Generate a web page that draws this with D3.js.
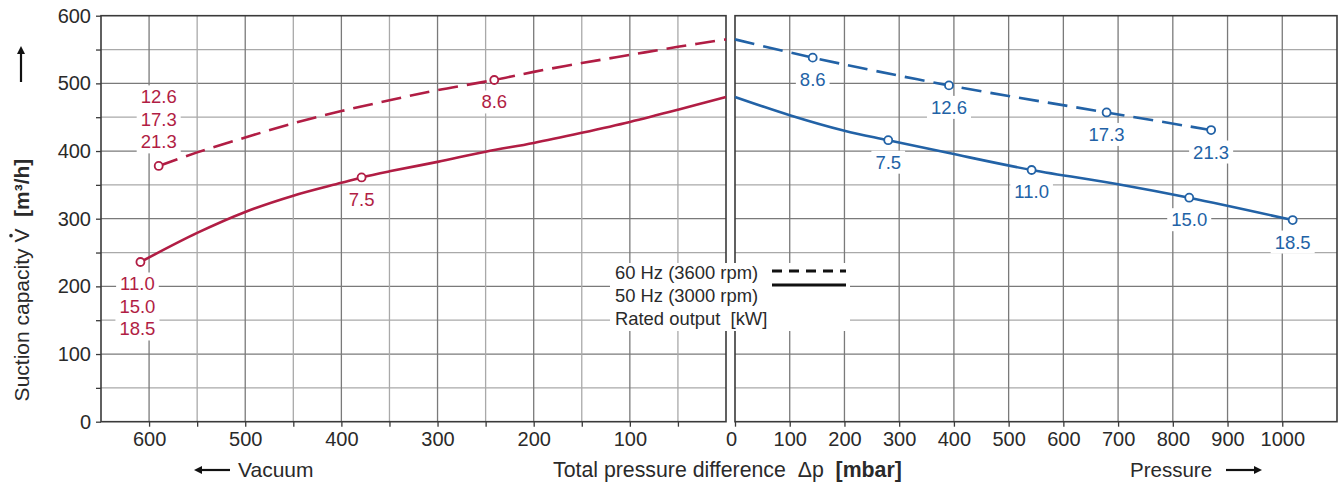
<!DOCTYPE html>
<html lang="en">
<head>
<meta charset="UTF-8">
<title>Suction capacity</title>
<style>
  body { margin: 0; padding: 0; background: #fff; }
  svg { font-family: "Liberation Sans", Arial, Helvetica, sans-serif; display: block; }
  svg text { white-space: pre; }
  .tick text { font-size: 20px; fill: #2a2a2a; }
</style>
</head>
<body>
<svg width="1343" height="483"></svg>
<script src="https://cdnjs.cloudflare.com/ajax/libs/d3/7.8.5/d3.min.js"></script>
<script>
// --- data ---
// vacuum side (mbar below atmosphere), 60 Hz dashed / 50 Hz solid
const vac60X = [590, 550, 500, 450, 400, 350, 300, 241, 200, 150, 100, 50, 0];
const vac60Y = [378, 398, 420, 441, 459, 475, 490, 505, 517, 530, 542, 554, 565];
const vac50X = [609, 550, 500, 450, 400, 379, 350, 300, 250, 200, 150, 100, 50, 0];
const vac50Y = [236, 279, 310, 334, 353, 361, 370, 384, 399, 412, 427, 443, 461, 480];
// pressure side
const pres60X = [0, 142, 391, 679, 870];
const pres60Y = [565, 538, 497, 457, 431];
const pres50X = [0, 100, 200, 280, 391, 542, 700, 830, 1019];
const pres50Y = [480, 453, 430, 416, 397, 372, 351, 331, 298];

// rated output markers
const vacMarkX = [590, 241, 609, 379];
const vacMarkY = [378, 505, 236, 361];
const vacMarkLabel = [["12.6", "17.3", "21.3"], ["8.6"], ["11.0", "15.0", "18.5"], ["7.5"]];
const vacMarkPos = ["above", "below", "below", "below"];
const presMarkX = [142, 391, 679, 870, 280, 542, 830, 1019];
const presMarkY = [538, 497, 457, 431, 416, 372, 331, 298];
const presMarkLabel = ["8.6", "12.6", "17.3", "21.3", "7.5", "11.0", "15.0", "18.5"];

const yTicks = [0, 100, 200, 300, 400, 500, 600];
const vacTicks = [600, 500, 400, 300, 200, 100];
const presTicks = [0, 100, 200, 300, 400, 500, 600, 700, 800, 900, 1000];
const legendLabels = ["60 Hz (3600 rpm)", "50 Hz (3000 rpm)", "Rated output  [kW]"];

const RED = "#b11d44", BLUE = "#2262a6", INK = "#2a2a2a";

const svg = d3.select("svg");

const y = d3.scaleLinear().domain([0, 600]).range([421.7, 15.7]);
const xL = d3.scaleLinear().domain([650, 0]).range([101, 726]);
const xR = d3.scaleLinear().domain([0, 1100]).range([735, 1337]);

// grid
function grid(x, vLines) {
  const g = svg.append("g");
  d3.range(50, 600, 50).forEach(v => {
    g.append("line")
      .attr("x1", x.range()[0]).attr("x2", x.range()[1])
      .attr("y1", y(v)).attr("y2", y(v))
      .attr("stroke", v % 100 === 0 ? "#7a7a7a" : "#a9a9a9")
      .attr("stroke-width", 1.3);
  });
  vLines.forEach(v => {
    g.append("line")
      .attr("x1", x(v)).attr("x2", x(v))
      .attr("y1", y(0)).attr("y2", y(600))
      .attr("stroke", v % 100 === 0 ? "#7a7a7a" : "#a9a9a9")
      .attr("stroke-width", 1.3);
  });
}
grid(xL, d3.range(50, 650, 50));
grid(xR, d3.range(100, 1100, 100));

// frames
[xL, xR].forEach(x => {
  svg.append("rect")
    .attr("x", x.range()[0]).attr("y", y(600))
    .attr("width", x.range()[1] - x.range()[0])
    .attr("height", y(0) - y(600))
    .attr("fill", "none").attr("stroke", "#3a3a3a").attr("stroke-width", 1.6);
});

// axes
function styleAxis(g) {
  g.select(".domain").remove();
  g.selectAll(".tick line").attr("stroke", "#3a3a3a").attr("stroke-width", 1.3);
}
svg.append("g").attr("transform", `translate(101,0)`)
  .call(d3.axisLeft(y).tickValues(yTicks).tickSize(5).tickPadding(5))
  .call(styleAxis);
svg.append("g").attr("transform", `translate(101,0)`)
  .call(d3.axisLeft(y).tickValues(d3.range(50, 600, 100)).tickSize(5).tickFormat(""))
  .call(styleAxis);
svg.append("g").attr("transform", `translate(0,${y(0)})`)
  .call(d3.axisBottom(xL).tickValues(vacTicks).tickSize(5).tickPadding(5).tickFormat(d3.format("d")))
  .call(styleAxis);
svg.append("g").attr("transform", `translate(0,${y(0)})`)
  .call(d3.axisBottom(xL).tickValues(d3.range(50, 650, 100)).tickSize(5).tickFormat(""))
  .call(styleAxis);
const presAxis = svg.append("g").attr("transform", `translate(0,${y(0)})`)
  .call(d3.axisBottom(xR).tickValues(presTicks).tickSize(5).tickPadding(5).tickFormat(d3.format("d")))
  .call(styleAxis);
presAxis.selectAll(".tick").filter(d => d === 0).select("text").attr("dx", -4);

// legend (white box hides the grid)
const lg = svg.append("g");
lg.append("rect").attr("x", 610).attr("y", 263).attr("width", 240).attr("height", 68).attr("fill", "#fff");
legendLabels.forEach((t, i) => {
  lg.append("text").attr("x", 615).attr("y", 279 + i * 23)
    .attr("font-size", 18.4).attr("fill", INK).text(t);
});
lg.append("line").attr("x1", 772).attr("x2", 846).attr("y1", 271).attr("y2", 271)
  .attr("stroke", "#111").attr("stroke-width", 3).attr("stroke-dasharray", "10,7");
lg.append("line").attr("x1", 772).attr("x2", 846).attr("y1", 285).attr("y2", 285)
  .attr("stroke", "#111").attr("stroke-width", 3);

// curves
function curve(x, xs, ys, color, dashed) {
  const pts = xs.map((v, i) => [x(v), y(ys[i])]).sort((a, b) => a[0] - b[0]);
  svg.append("path")
    .attr("d", d3.line().curve(d3.curveCatmullRom.alpha(0.5))(pts))
    .attr("fill", "none").attr("stroke", color).attr("stroke-width", 2.6)
    .attr("stroke-dasharray", dashed ? "20,9" : null);
}
curve(xL, vac60X, vac60Y, RED, true);
curve(xL, vac50X, vac50Y, RED, false);
curve(xR, pres60X, pres60Y, BLUE, true);
curve(xR, pres50X, pres50Y, BLUE, false);

// markers and labels
const labelLayer = svg.append("g");
const dots = svg.append("g");
function marker(cx, cy, lines, pos, color, dx) {
  const lh = 22.5;
  lines.forEach((t, i) => {
    const ty = pos === "above" ? cy - 24 - (lines.length - 1 - i) * lh : cy + 22 + i * lh;
    const txt = labelLayer.append("text")
      .attr("x", cx + dx).attr("y", ty).attr("dy", "0.35em")
      .attr("text-anchor", "middle").attr("font-size", 18.5)
      .attr("fill", color).text(t);
    const b = txt.node().getBBox();
    labelLayer.insert("rect", "text")
      .attr("x", b.x - 4).attr("y", b.y - 1)
      .attr("width", b.width + 8).attr("height", b.height + 2)
      .attr("fill", "#fff");
  });
  dots.append("circle").attr("cx", cx).attr("cy", cy).attr("r", 4)
    .attr("fill", "#fff").attr("stroke", color).attr("stroke-width", 1.8);
}
vacMarkX.forEach((v, i) => {
  const dx = vacMarkLabel[i].length > 1 && vacMarkPos[i] === "below" ? -3 : 0;
  marker(xL(v), y(vacMarkY[i]), vacMarkLabel[i], vacMarkPos[i], RED, dx);
});
presMarkX.forEach((v, i) => marker(xR(v), y(presMarkY[i]), [presMarkLabel[i]], "below", BLUE, 0));

// axis titles
const ytg = svg.append("g").attr("transform", "translate(29,280) rotate(-90)");
const yt = ytg.append("text")
  .attr("text-anchor", "middle").attr("font-size", 21).attr("fill", INK);
yt.append("tspan").text("Suction capacity V  ");
yt.append("tspan").attr("font-weight", "bold").text("[m³/h]");
// dot over the V (flow rate symbol)
const vIdx = "Suction capacity ".length;
const ext = yt.node().getExtentOfChar(vIdx);
ytg.append("circle")
  .attr("cx", ext.x + ext.width / 2).attr("cy", ext.y + 1)
  .attr("r", 1.8).attr("fill", INK);

const xt = svg.append("text").attr("x", 553).attr("y", 477)
  .attr("font-size", 21.3).attr("fill", INK);
xt.append("tspan").text("Total pressure difference  \u0394p  ");
xt.append("tspan").attr("font-weight", "bold").text("[mbar]");

svg.append("text").attr("x", 238).attr("y", 477).attr("font-size", 21).attr("fill", INK).text("Vacuum");
svg.append("text").attr("x", 1130).attr("y", 477).attr("font-size", 20.5).attr("fill", INK).text("Pressure");

// arrows
function arrow(x1, y1, x2, y2) {
  const a = Math.atan2(y2 - y1, x2 - x1), L = 8, W = 4;
  svg.append("line").attr("x1", x1).attr("y1", y1)
    .attr("x2", x2 - Math.cos(a) * L * 0.8).attr("y2", y2 - Math.sin(a) * L * 0.8)
    .attr("stroke", "#111").attr("stroke-width", 2.2);
  const p = [
    [x2, y2],
    [x2 - Math.cos(a) * L - Math.sin(a) * W, y2 - Math.sin(a) * L + Math.cos(a) * W],
    [x2 - Math.cos(a) * L + Math.sin(a) * W, y2 - Math.sin(a) * L - Math.cos(a) * W]
  ];
  svg.append("path").attr("d", "M" + p.join("L") + "Z").attr("fill", "#111");
}
arrow(21, 82, 21, 46);
arrow(230, 470, 194, 470);
arrow(1226, 470, 1262, 470);
</script>
</body>
</html>
